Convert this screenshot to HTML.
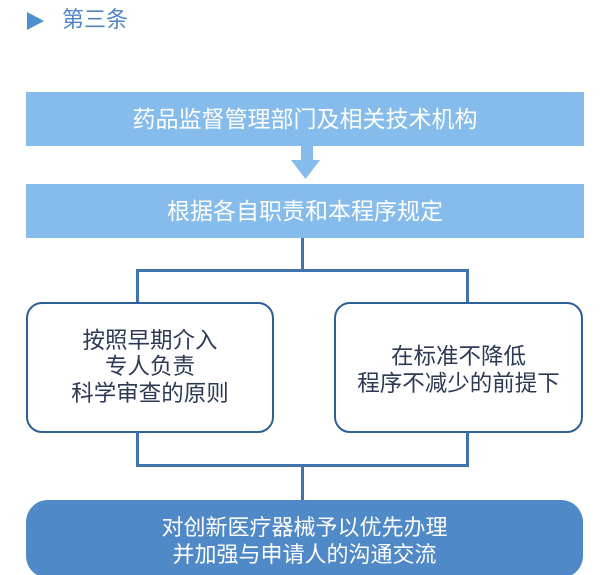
<!DOCTYPE html>
<html><head><meta charset="utf-8"><style>
html,body{margin:0;padding:0;background:#fff;width:610px;height:575px;overflow:hidden;position:relative;font-family:"Liberation Sans","Noto Sans CJK SC",sans-serif}
div{position:absolute;box-sizing:border-box}
.bar{left:26px;width:558px;height:54px;background:#85bcec;color:#fff;font-size:23px;text-align:center;line-height:54px}
.v{background:#3f73ad;width:3px}
.h{background:#3f73ad;height:3px}
.rb{top:302px;height:131px;border:2.5px solid #2f5f98;border-radius:16px;background:#fff;color:#2c3a55;font-size:22.5px;line-height:26.5px;text-align:center;display:flex;align-items:center;justify-content:center}
</style></head><body>
<svg style="position:absolute;left:0;top:0" width="610" height="575">
<polygon points="27,12 44,21 27,30" fill="#4d8fd0"/>
<rect x="301" y="146" width="12" height="15" fill="#85bcec"/>
<polygon points="291,160 320,160 305.5,179" fill="#85bcec"/>
</svg>
<div style="left:62px;top:5px;font-size:22px;color:#4f84c4;line-height:30px">第三条</div>
<div class="bar" style="top:92px">药品监督管理部门及相关技术机构</div>
<div class="bar" style="top:184px">根据各自职责和本程序规定</div>
<div class="v" style="left:301px;top:238px;height:33px"></div>
<div class="h" style="left:136px;top:269px;width:333px"></div>
<div class="v" style="left:136px;top:269px;height:34px"></div>
<div class="v" style="left:466px;top:269px;height:34px"></div>
<div class="rb" style="left:26px;width:248px;padding-top:0">按照早期介入<br>专人负责<br>科学审查的原则</div>
<div class="rb" style="left:334px;width:249px;padding-top:6px">在标准不降低<br>程序不减少的前提下</div>
<div class="v" style="left:136px;top:432px;height:35px"></div>
<div class="v" style="left:466px;top:432px;height:35px"></div>
<div class="h" style="left:136px;top:464px;width:333px"></div>
<div class="v" style="left:301px;top:464px;height:37px"></div>
<div style="left:26px;top:500px;width:557px;height:78px;background:#4f89c8;border-radius:22px;color:#fff;font-size:22px;line-height:27px;text-align:center;padding-top:14px">对创新医疗器械予以优先办理<br>并加强与申请人的沟通交流</div>
</body></html>
